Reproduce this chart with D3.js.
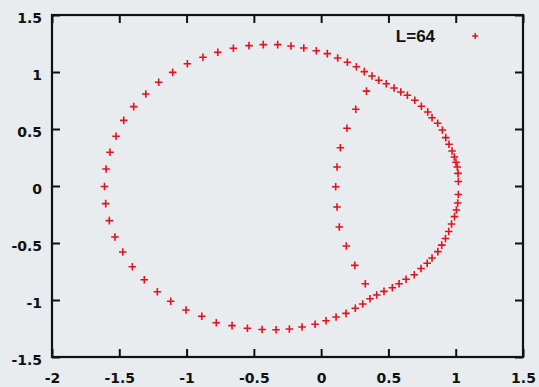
<!DOCTYPE html>
<html>
<head>
<meta charset="utf-8">
<script src="https://cdn.jsdelivr.net/npm/d3@7"></script>
<style>
  html, body { margin: 0; padding: 0; background: #e8ecef; }
  svg { display: block; }
  .tick text { font-family: "DejaVu Sans", Arial, sans-serif; font-weight: bold; font-size: 14px; fill: #111; }
</style>
</head>
<body>
<svg id="chart" width="539" height="387"></svg>
<script>
// Outer closed loop (x values, then matching y values)
const outerX = [
  -0.536, -0.430, -0.323, -0.224, -0.129, -0.036, 0.046, 0.123, 0.195, 0.262,
  0.321, 0.378, 0.428, 0.484, 0.542, 0.592, 0.641, 0.696, 0.745, 0.792,
  0.824, 0.866, 0.901, 0.926, 0.950, 0.973, 0.990, 1.002, 1.012, 1.017,
  1.020, 1.020, 1.015, 1.005, 0.991, 0.969, 0.948, 0.924, 0.896, 0.867,
  0.824, 0.788, 0.742, 0.692, 0.631, 0.579, 0.529, 0.467, 0.413, 0.363,
  0.309, 0.254, 0.185, 0.111, 0.036, -0.045, -0.142, -0.236, -0.335, -0.439,
  -0.548, -0.662, -0.779, -0.887, -1.004, -1.118, -1.217, -1.314, -1.403, -1.474,
  -1.532, -1.574, -1.601, -1.610, -1.598, -1.569, -1.524, -1.467, -1.393, -1.303,
  -1.207, -1.103, -0.994, -0.878, -0.768, -0.652
];
const outerY = [
  1.231, 1.240, 1.240, 1.228, 1.211, 1.187, 1.161, 1.123, 1.085, 1.046,
  1.003, 0.965, 0.927, 0.897, 0.860, 0.825, 0.796, 0.752, 0.699, 0.649,
  0.599, 0.550, 0.491, 0.424, 0.366, 0.307, 0.254, 0.208, 0.167, 0.111,
  0.039, -0.075, -0.149, -0.211, -0.269, -0.333, -0.399, -0.461, -0.519, -0.576,
  -0.631, -0.678, -0.724, -0.778, -0.818, -0.857, -0.892, -0.924, -0.956, -0.989,
  -1.035, -1.073, -1.117, -1.149, -1.182, -1.213, -1.237, -1.254, -1.261, -1.259,
  -1.248, -1.225, -1.199, -1.143, -1.088, -1.011, -0.927, -0.822, -0.708, -0.579,
  -0.447, -0.304, -0.155, -0.004, 0.149, 0.296, 0.436, 0.576, 0.696, 0.807,
  0.910, 0.997, 1.073, 1.129, 1.173, 1.208
];
// Inner arc
const innerX = [0.337, 0.257, 0.192, 0.143, 0.118, 0.108, 0.118, 0.135, 0.187, 0.250, 0.328];
const innerY = [0.832, 0.673, 0.506, 0.336, 0.167, -0.006, -0.184, -0.360, -0.526, -0.696, -0.857];

const xTicks = [-2, -1.5, -1, -0.5, 0, 0.5, 1, 1.5];
const yTicks = [-1.5, -1, -0.5, 0, 0.5, 1, 1.5];
const legendLabel = "L=64";

const plotLeft = 52, plotRight = 523, plotTop = 15, plotBottom = 357;
const svg = d3.select("#chart");

const x = d3.scaleLinear().domain([-2, 1.5]).range([plotLeft, plotRight]);
const y = d3.scaleLinear().domain([-1.5, 1.5]).range([plotBottom, plotTop]);

const fmt = d => String(d);
const tickLen = 8;

// bottom axis with labels, inward ticks
svg.append("g").attr("transform", `translate(0,${plotBottom})`)
  .call(d3.axisBottom(x).tickValues(xTicks).tickFormat(fmt).tickSize(-tickLen).tickPadding(16))
  .call(g => g.select(".domain").remove())
  .call(g => g.selectAll("line").attr("stroke", "#111").attr("stroke-width", 2));
// top axis, ticks only
svg.append("g").attr("transform", `translate(0,${plotTop})`)
  .call(d3.axisTop(x).tickValues(xTicks).tickFormat("").tickSize(-tickLen))
  .call(g => g.select(".domain").remove())
  .call(g => g.selectAll("line").attr("stroke", "#111").attr("stroke-width", 2));
// left axis with labels
svg.append("g").attr("transform", `translate(${plotLeft},0)`)
  .call(d3.axisLeft(y).tickValues(yTicks).tickFormat(fmt).tickSize(-tickLen).tickPadding(10))
  .call(g => g.select(".domain").remove())
  .call(g => g.selectAll("line").attr("stroke", "#111").attr("stroke-width", 2))
  .call(g => g.selectAll("text").attr("dy", "0.5em"));
// right axis, ticks only
svg.append("g").attr("transform", `translate(${plotRight},0)`)
  .call(d3.axisRight(y).tickValues(yTicks).tickFormat("").tickSize(-tickLen))
  .call(g => g.select(".domain").remove())
  .call(g => g.selectAll("line").attr("stroke", "#111").attr("stroke-width", 2));

// frame
svg.append("rect")
  .attr("x", plotLeft).attr("y", plotTop)
  .attr("width", plotRight - plotLeft).attr("height", plotBottom - plotTop)
  .attr("fill", "none").attr("stroke", "#111").attr("stroke-width", 2.2);

// plus markers
const plus = "M-3.8,0H3.8M0,-3.8V3.8";
const pts = outerX.map((v, i) => [v, outerY[i]])
  .concat(innerX.map((v, i) => [v, innerY[i]]));

svg.append("g").selectAll("path")
  .data(pts)
  .join("path")
  .attr("d", plus)
  .attr("transform", d => `translate(${x(d[0])},${y(d[1])})`)
  .attr("stroke", "#e8101c")
  .attr("stroke-width", 1.6)
  .attr("fill", "none");

// legend
svg.append("text")
  .attr("x", x(0.555)).attr("y", plotTop + 27)
  .attr("text-anchor", "start")
  .attr("font-family", "Liberation Sans, Arial, sans-serif")
  .attr("font-weight", "bold")
  .attr("font-size", 17)
  .attr("fill", "#111")
  .text(legendLabel);
svg.append("path")
  .attr("d", "M-3,0H3M0,-3V3")
  .attr("transform", `translate(${x(1.145)},${plotTop + 21})`)
  .attr("stroke", "#e8101c")
  .attr("stroke-width", 1.5)
  .attr("fill", "none");
</script>
</body>
</html>
